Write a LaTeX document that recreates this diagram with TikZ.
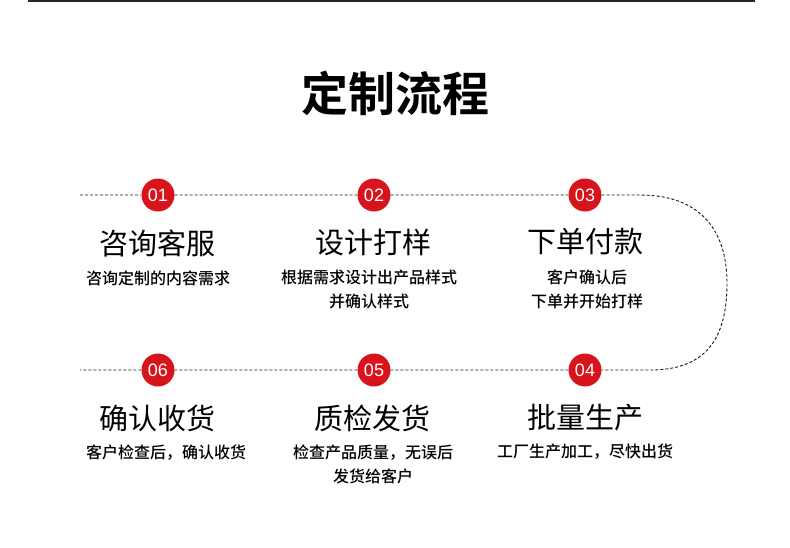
\documentclass[tikz,border=0pt]{standalone}
\usepackage{fontspec}
\newfontfamily\cjk{Noto Sans CJK SC}[BoldFont={Noto Sans CJK SC Bold}]
\newfontfamily\cjkmed{Noto Sans CJK SC Medium}
\newfontfamily\numfont{Liberation Sans}
\usepackage{tikz}
\usetikzlibrary{positioning}
\definecolor{stepred}{HTML}{D7141C}

\begin{document}
\begin{tikzpicture}[x=1pt, y=-1pt,
  every node/.style={font=\cjk},
  path/.style={black!90, line width=0.9pt, dash pattern=on 3pt off 2pt},
  num/.style={circle, fill=stepred, text=white, minimum size=33pt, inner sep=0pt, font=\numfont\fontsize{18}{18}\selectfont},
  head/.style={font=\cjk\fontsize{29}{32}\selectfont},
  desc/.style={font=\cjkmed\fontsize{16}{24}\selectfont, align=center}
]
\useasboundingbox (0,0) rectangle (790,547);
\fill[black!85] (28,0) rectangle (755,1.5);

\node[font=\cjk\bfseries\fontsize{47}{50}\selectfont] (title) at (395,93) {定制流程};

% dashed route
\coordinate (start) at (80,195);
\coordinate (end) at (80,370);
\coordinate (ttop) at (640,195);
\coordinate (tbot) at (650,370);
\node[num] (n1) at (158,195) {01};
\node[num] (n2) at (374,195) {02};
\node[num] (n3) at (585,195) {03};
\node[num] (n4) at (585,370) {04};
\node[num] (n5) at (374,370) {05};
\node[num] (n6) at (158,370) {06};
\draw[path] (start) -- (n1) -- (n2) -- (n3) -- (ttop)
  .. controls (700,195) and (727,230) .. (727,283)
  .. controls (727,340) and (705,370) .. (tbot) -- (n4) -- (n5) -- (n6) -- (end);

% steps
\node[head] (h1) at (157,243) {咨询客服};
\node[desc] (d1) at (158,278) {咨询定制的内容需求};
\node[head] (h2) at (373,242) {设计打样};
\node[desc] (d2) at (369,289) {根据需求设计出产品样式\\并确认样式};
\node[head] (h3) at (585,242) {下单付款};
\node[desc] (d3) at (587,289) {客户确认后\\下单并开始打样};
\node[head] (h4) at (585,418) {批量生产};
\node[desc] (d4) at (585,452) {工厂生产加工，尽快出货};
\node[head] (h5) at (372,418) {质检发货};
\node[desc] (d5) at (373,464) {检查产品质量，无误后\\发货给客户};
\node[head] (h6) at (157,418) {确认收货};
\node[desc] (d6) at (166,453) {客户检查后，确认收货};
\end{tikzpicture}
\end{document}
